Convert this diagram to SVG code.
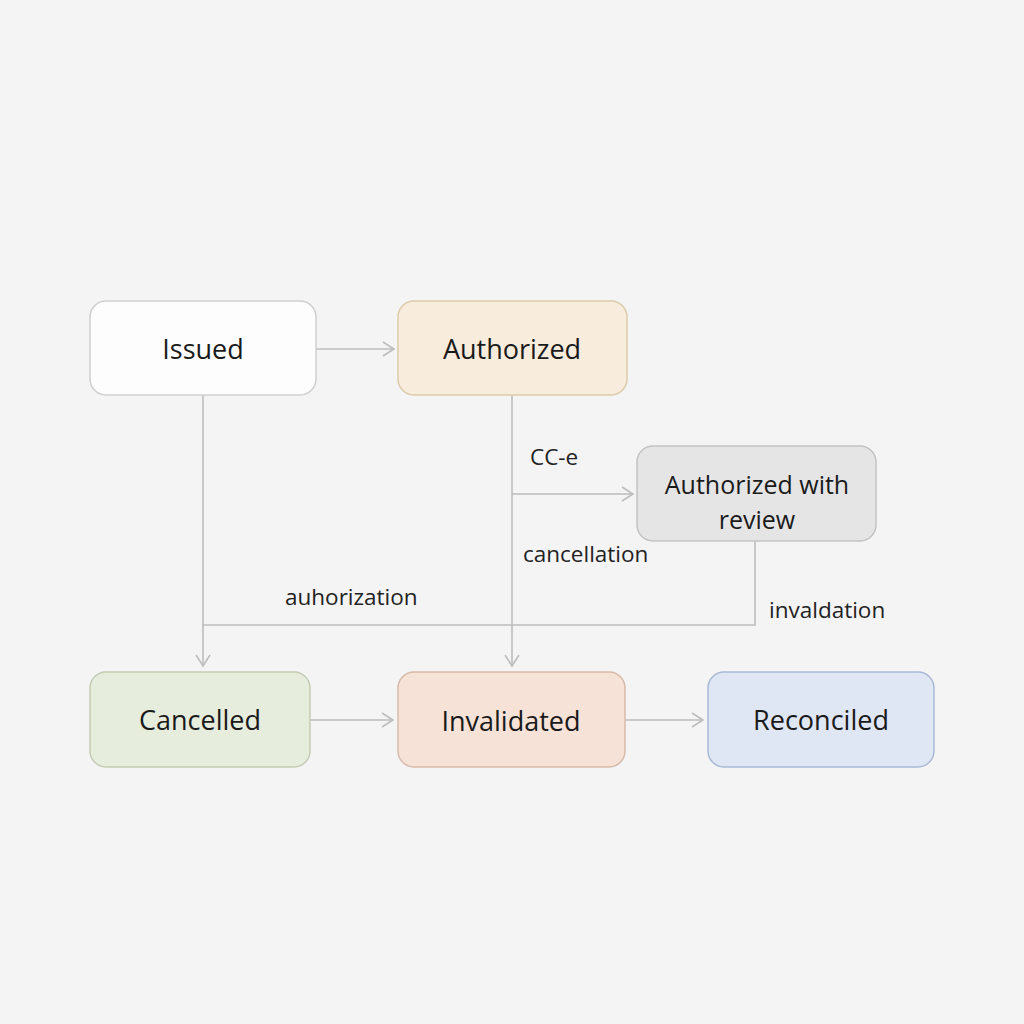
<svg xmlns="http://www.w3.org/2000/svg" width="1024" height="1024" viewBox="0 0 1024 1024">
<style>
.node rect{stroke-width:1.5}
.nl{font-family:"Open Sans","Liberation Sans",sans-serif;font-size:27px;fill:#1a1a1a;text-anchor:middle}
.el{font-family:"Open Sans","Liberation Sans",sans-serif;font-size:22.5px;fill:#222}
.c{fill:none;stroke:#bdbdbd;stroke-width:1.6}
</style>
<defs>
<marker id="ar" markerWidth="16" markerHeight="16" refX="13" refY="8" orient="auto" markerUnits="userSpaceOnUse">
<path d="M2,1 L13,8 L2,15" fill="none" stroke="#bdbdbd" stroke-width="1.6"/>
</marker>
</defs>
<rect width="1024" height="1024" fill="#f4f4f4"/>
<g id="connectors">
<line class="c" x1="316" y1="349" x2="394" y2="349" marker-end="url(#ar)"/>
<line class="c" x1="203" y1="395" x2="203" y2="666" marker-end="url(#ar)"/>
<line class="c" x1="512" y1="395" x2="512" y2="666" marker-end="url(#ar)"/>
<line class="c" x1="512" y1="494" x2="633" y2="494" marker-end="url(#ar)"/>
<polyline class="c" points="755,541 755,625 203,625"/>
<line class="c" x1="310" y1="720" x2="393" y2="720" marker-end="url(#ar)"/>
<line class="c" x1="625" y1="720" x2="703" y2="720" marker-end="url(#ar)"/>
<text class="el" x="530" y="465">CC-e</text>
<text class="el" x="523" y="562">cancellation</text>
<text class="el" x="285" y="605">auhorization</text>
<text class="el" x="769" y="618">invaldation</text>
</g>
<g id="issued" class="node"><rect x="90" y="301" width="226" height="94" rx="16" fill="#fdfdfd" stroke="#cfcfcf"/><text class="nl" x="203" y="359">Issued</text></g>
<g id="authorized" class="node"><rect x="398" y="301" width="229" height="94" rx="16" fill="#f8ecdc" stroke="#dccaa9"/><text class="nl" x="512" y="359">Authorized</text></g>
<g id="authorized-review" class="node"><rect x="637" y="446" width="239" height="95" rx="16" fill="#e5e5e5" stroke="#c3c3c3"/><text class="nl" x="757" y="494" style="font-size:25px">Authorized with</text><text class="nl" x="757" y="529" style="font-size:25px">review</text></g>
<g id="cancelled" class="node"><rect x="90" y="672" width="220" height="95" rx="16" fill="#e7eddd" stroke="#c3ccb3"/><text class="nl" x="200" y="730">Cancelled</text></g>
<g id="invalidated" class="node"><rect x="398" y="672" width="227" height="95" rx="16" fill="#f6e2d6" stroke="#d7b9a9"/><text class="nl" x="511" y="731">Invalidated</text></g>
<g id="reconciled" class="node"><rect x="708" y="672" width="226" height="95" rx="16" fill="#dfe6f4" stroke="#a9b9d5"/><text class="nl" x="821" y="730">Reconciled</text></g>
</svg>
